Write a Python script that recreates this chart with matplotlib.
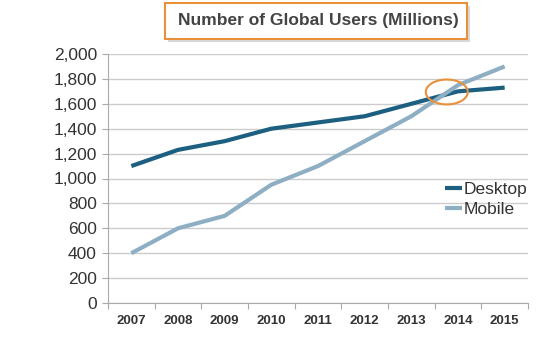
import matplotlib.pyplot as plt
import numpy as np
from matplotlib.patches import Ellipse, FancyBboxPatch

plt.rcParams['font.family'] = ['Liberation Sans', 'DejaVu Sans']

years = ['2007', '2008', '2009', '2010', '2011', '2012', '2013', '2014', '2015']
desktop = [1100, 1230, 1300, 1400, 1450, 1500, 1600, 1700, 1730]
mobile = [400, 600, 700, 950, 1100, 1300, 1500, 1750, 1900]

fig = plt.figure(figsize=(5.41, 3.53), dpi=100)
ax = fig.add_axes([108 / 541, 50 / 353, 420 / 541, 249 / 353])

x = np.arange(len(years)) + 0.5
ax.plot(x, desktop, color='#1c5f80', lw=3, label='Desktop', solid_capstyle='butt')
ax.plot(x, mobile, color='#8eaec4', lw=3, label='Mobile', solid_capstyle='butt')

ax.set_xlim(0, len(years))
ax.set_ylim(0, 2000)
ax.set_yticks(range(0, 2001, 200))
ax.set_yticklabels(['{:,}'.format(v) for v in range(0, 2001, 200)],
                   fontsize=12.5, color='#333333')
ax.set_xticks(np.arange(len(years) + 1))
ax.set_xticklabels([])
ax.set_xticks(x, minor=True)
ax.set_xticklabels(years, minor=True, fontsize=9.5, fontweight='bold', color='#333333')
ax.tick_params(axis='x', which='minor', length=0, pad=9)
ax.tick_params(axis='x', which='major', length=4, color='#aaaaaa')
ax.tick_params(axis='y', length=4, color='#aaaaaa', pad=4)

ax.grid(axis='y', color='#cccccc', lw=1)
ax.set_axisbelow(True)
for s in ['top', 'right']:
    ax.spines[s].set_visible(False)
for s in ['left', 'bottom']:
    ax.spines[s].set_color('#aaaaaa')

ax.add_patch(Ellipse((7.26, 1695), 0.9, 200, fill=False, edgecolor='#e8913a', lw=1.5, zorder=5))

leg = ax.legend(loc='upper left', bbox_to_anchor=(0.765, 0.55), frameon=False,
                fontsize=12.5, handlelength=1.0, handletextpad=0.1, labelspacing=0.3)
for t in leg.get_texts():
    t.set_color('#333333')

# title box with shadow
shadow = FancyBboxPatch((168 / 541, 1 - 42 / 353), 302 / 541, 36 / 353,
                        boxstyle='square,pad=0', transform=fig.transFigure,
                        facecolor='#d9d9d9', edgecolor='none', zorder=1)
box = FancyBboxPatch((165 / 541, 1 - 39 / 353), 302 / 541, 36 / 353,
                     boxstyle='square,pad=0', transform=fig.transFigure,
                     facecolor='white', edgecolor='#e8913a', lw=1.5, zorder=2)
fig.patches.extend([shadow, box])
fig.text(318 / 541, 1 - 21 / 353, 'Number of Global Users (Millions)', ha='center', va='center',
         fontsize=12.5, fontweight='bold', color='#444444', zorder=3)

fig.savefig('out.png', dpi=100)
